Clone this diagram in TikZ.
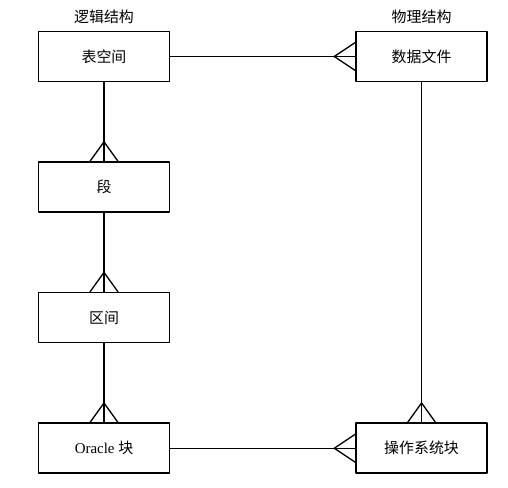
\documentclass[tikz,border=0pt]{standalone}
\usepackage{fontspec}
\setmainfont{Liberation Serif}
\newfontfamily\cjk{Noto Sans CJK SC}
\usetikzlibrary{positioning,calc}
\tikzset{
  ebox/.style={
    draw, line width=0.9pt, minimum width=2.62cm, minimum height=1.0cm,
    inner sep=2pt, font=\fontsize{8.5}{10}\selectfont
  },
  lnk/.style={line width=0.75pt},
  ttl/.style={font=\fontsize{8.5}{10}\selectfont\cjk, inner sep=1pt},
  every picture/.append style={line join=round}
}
% crow's foot on the top side of a node
\newcommand{\crowtop}[1]{%
  \draw[lnk] ($(#1.north)+(-0.28,0)$) -- ($(#1.north)+(0,0.39)$) -- ($(#1.north)+(0.28,0)$);
}
% crow's foot on the left side of a node
\newcommand{\crowleft}[1]{%
  \draw[lnk] ($(#1.west)+(0,0.28)$) -- ($(#1.west)+(-0.42,0)$) -- ($(#1.west)+(0,-0.28)$);
}
\begin{document}
\begin{tikzpicture}[node distance=1.58cm and 3.70cm]
  \useasboundingbox (0,0) rectangle (10.16,-9.76);
  \node[ebox] (tbs) at (2.08,-1.13) {\cjk 表空间};
  \node[ebox, below=of tbs] (seg) {\cjk 段};
  \node[ebox, below=of seg] (ext) {\cjk 区间};
  \node[ebox, below=of ext] (blk) {Oracle {\cjk 块}};
  \node[ebox, right=of tbs] (dfile) {\cjk 数据文件};
  \node[ebox, right=of blk] (osblk) {\cjk 操作系统块};

  \node[ttl, above=0.1cm of tbs] (lgc) {逻辑结构};
  \node[ttl, above=0.1cm of dfile] (phy) {物理结构};

  \draw[lnk] (tbs) -- (seg);
  \draw[lnk] (seg) -- (ext);
  \draw[lnk] (ext) -- (blk);
  \draw[lnk] (tbs) -- (dfile);
  \draw[lnk] (blk) -- (osblk);
  \draw[lnk] (dfile) -- (osblk);

  \crowtop{seg}
  \crowtop{ext}
  \crowtop{blk}
  \crowtop{osblk}
  \crowleft{dfile}
  \crowleft{osblk}
\end{tikzpicture}
\end{document}
